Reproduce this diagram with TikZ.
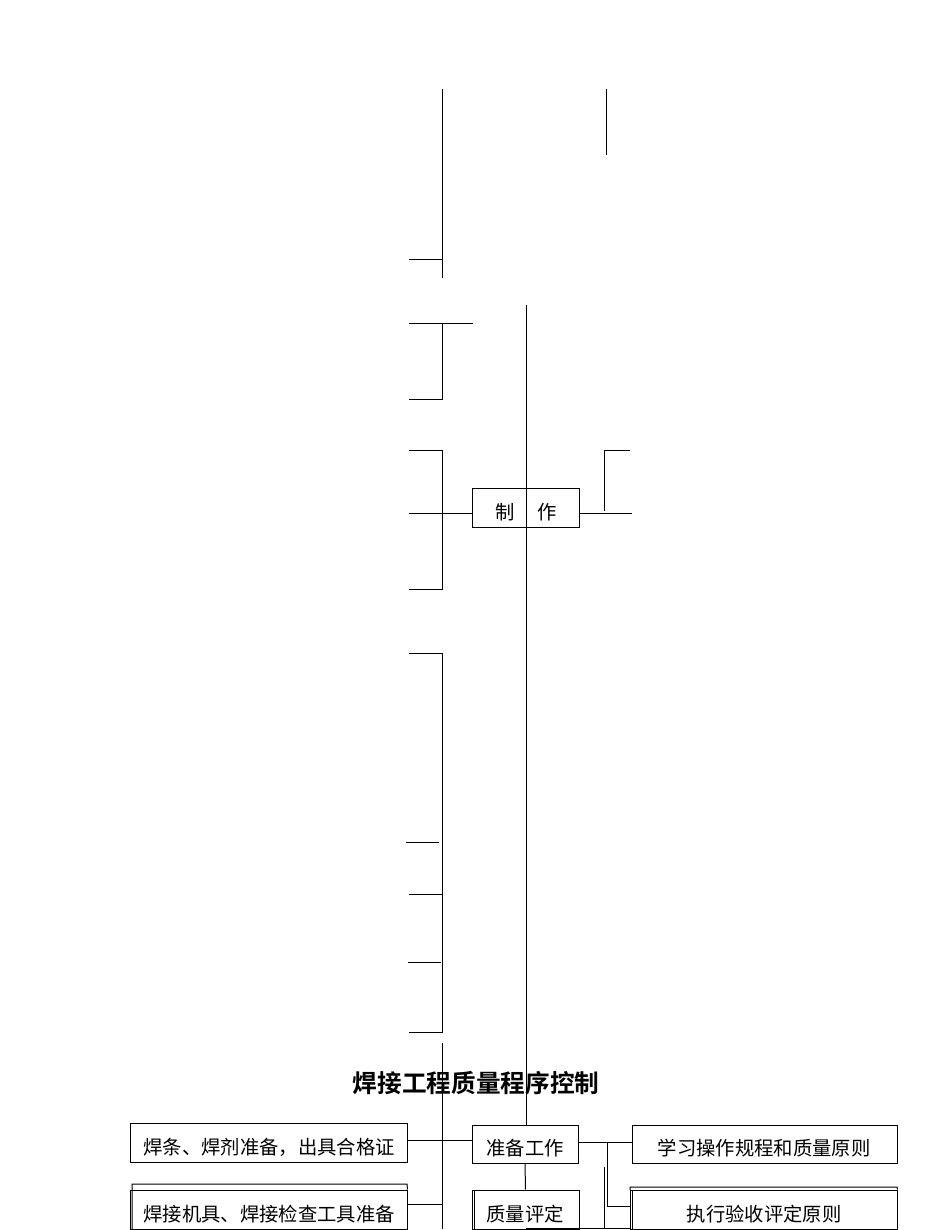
\documentclass[tikz,border=0pt]{standalone}
\usepackage{fontspec}
\newfontfamily\cjk{Noto Sans CJK SC}
\newfontfamily\cjkbold{Noto Sans CJK SC Bold}
\usetikzlibrary{calc}
\begin{document}
\begin{tikzpicture}[x=0.75pt,y=-0.75pt,line width=0.75pt,
  pbox/.style={draw,inner sep=0pt,rectangle},
  txt/.style={inner sep=0pt,font=\cjk\fontsize{14.5}{16}\selectfont},
  ttl/.style={inner sep=0pt,font=\cjkbold\fontsize{18.5}{20}\selectfont}]
\useasboundingbox (0,0) rectangle (950,1230);

% ---- boxes ----
\node[pbox,minimum width=80.25pt,minimum height=29.25pt] (zz) at (525.5,507.5) {};
\node[txt] (zzt) at (526,512.5) {制\hspace{1.2em}作};

\node[pbox,minimum width=207.75pt,minimum height=29.25pt] (l1) at (268.5,1142.5) {};
\node[txt] (l1t) at (269,1147) {焊条、焊剂准备，出具合格证};

\node[pbox,minimum width=79.5pt,minimum height=28.5pt] (zb) at (525,1144) {};
\node[txt] (zbt) at (525,1148) {准备工作};

\node[pbox,minimum width=198.75pt,minimum height=28.5pt] (xx) at (764.5,1144) {};
\node[txt] (xxt) at (764,1148) {学习操作规程和质量原则};

\node[pbox,minimum width=207.75pt,minimum height=29.25pt] (l2) at (268.5,1209.5) {};
\node[txt] (l2t) at (269,1214) {焊接机具、焊接检查工具准备};

\node[pbox,minimum width=80.25pt,minimum height=29.25pt] (zp) at (525.5,1209.5) {};
\node[txt] (zpt) at (525,1214) {质量评定};

\node[pbox,minimum width=200.25pt,minimum height=29.25pt] (zx) at (763.5,1209.5) {};
\node[txt] (zxt) at (764,1214) {执行验收评定原则};

% extra edges (doubled borders)
\draw (132,1229) -- (132,1184) -- (407,1184) -- (l2.north east);
\draw (474,1190) -- (474,1229);
\draw (630,1190) -- (630,1187) -- (897,1187) -- (zx.north east);
\draw (632,1190) -- (632,1229);

% ---- title ----
\node[ttl] (title) at (476,1083) {焊接工程质量程序控制};

% ---- top stubs ----
\draw (442,89) -- (442,278);
\draw (606,89) -- (606,155);
\draw (409,260) -- (442,260);
\draw (409,323.5) -- (473,323.5);
\draw (442,323.5) -- (442,399) -- (409,399);

% ---- central spine ----
\coordinate (ctop) at (526,305);
\draw (ctop) -- (ctop |- zb.north);
\draw (zb.south) -- (zp.north);

% ---- bracket round 制作 ----
\coordinate (k0) at (409,513);
\draw (409,450) -- (442,450) -- (442,589) -- (409,589);
\draw (k0) -- (k0 -| zz.west);
\coordinate (k3) at (632,513);
\draw (k3 -| zz.east) -- (k3);
\draw (630,450) -- (604,450) -- (604,511);

% ---- long left bracket ----
\draw (409,653) -- (442,653) -- (442,1032) -- (409,1032);
\draw (406,842) -- (439,842);
\draw (409,894) -- (442,894);
\draw (408,962) -- (441,962);
\draw (442,1043) -- (442,1229);

% ---- bottom connectors ----
\coordinate (k1) at (0,1140);
\draw (l1.east |- k1) -- (zb.west |- k1);
\coordinate (k2) at (607,1142);
\draw (zb.east |- k2) -- (xx.west |- k2);
\coordinate (k4) at (0,1206);
\draw (k2) |- (zx.west |- k4);
\draw (604.5,1167) -- (604.5,1229);
\coordinate (k5) at (0,1204);
\draw (l2.east |- k5) -- (442,1204);
\draw (526,1228.5) -- (630,1228.5);
\end{tikzpicture}
\end{document}
